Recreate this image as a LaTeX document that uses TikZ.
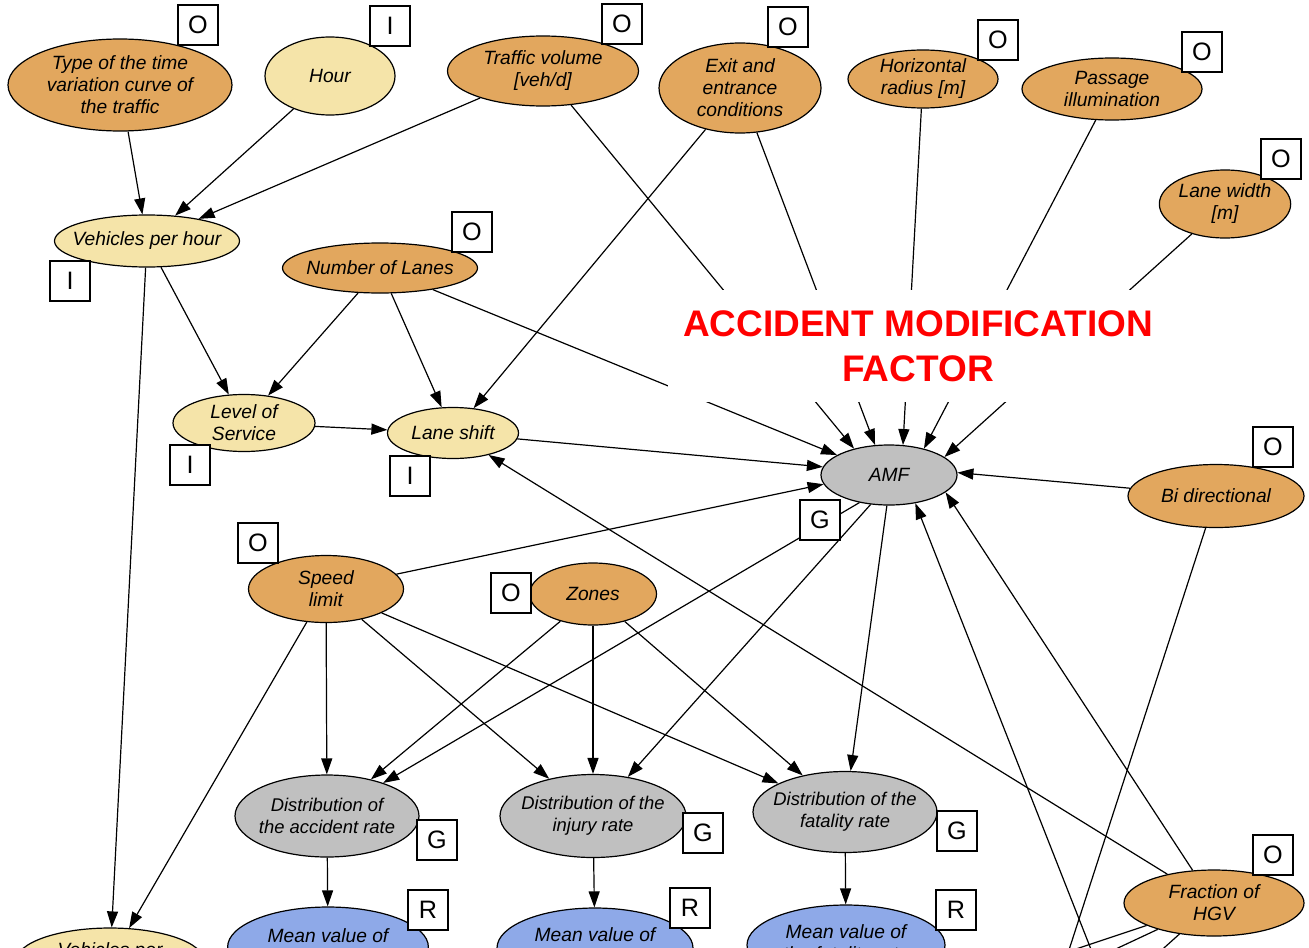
\documentclass[tikz,border=0pt]{standalone}
\usepackage{fontspec}
\setmainfont{Liberation Sans}
\usetikzlibrary{shapes.geometric,arrows.meta}
\definecolor{obsorange}{HTML}{E2A75E}
\definecolor{inpyellow}{HTML}{F5E4A9}
\definecolor{gengrey}{HTML}{C0C0C0}
\definecolor{resblue}{HTML}{8EA9E8}
\tikzset{
  var/.style={ellipse,draw,line width=0.6pt,inner sep=0pt,align=center,font=\fontsize{9.6}{11}\selectfont\itshape},
  obsvar/.style={var,fill=obsorange},
  inpvar/.style={var,fill=inpyellow},
  genvar/.style={var,fill=gengrey},
  resvar/.style={var,fill=resblue},
  tag/.style={draw,fill=white,line width=0.6pt,minimum size=20pt,inner sep=0pt,font=\fontsize{12.6}{14}\selectfont},
  dep/.style={line width=0.6pt,-{Triangle[length=8pt,width=5.5pt]}}
}
\begin{document}
\begin{tikzpicture}[x=0.5pt,y=-0.5pt]
    \useasboundingbox (0,0) rectangle (1309,947);
    \clip (0,0) rectangle (1309,947);

    % Variables
    \node (type) at (120,85) [obsvar,minimum width=112pt,minimum height=46pt] {Type of the time\\variation curve of\\the traffic};
    \node (hour) at (330,76) [inpvar,minimum width=65pt,minimum height=39pt] {Hour};
    \node (traffic) at (543,71) [obsvar,minimum width=95.5pt,minimum height=35pt] {Traffic volume\\{[veh/d]}};
    \node (exit) at (740,88) [obsvar,minimum width=81pt,minimum height=45pt] {Exit and\\entrance\\conditions};
    \node (radius) at (923,79) [obsvar,minimum width=75pt,minimum height=29pt] {Horizontal\\radius [m]};
    \node (illum) at (1112,89) [obsvar,minimum width=90pt,minimum height=31pt] {Passage\\illumination};
    \node (lanew) at (1225,204) [obsvar,minimum width=64.5pt,minimum height=34pt] {Lane width\\{[m]}};
    \node (vph) at (147,241) [inpvar,inner xsep=-5pt,minimum width=92.5pt,minimum height=26pt] {Vehicles per hour};
    \node (lanes) at (380,268) [obsvar,inner xsep=-2.5pt,minimum width=97.5pt,minimum height=25pt] {Number of Lanes};
    \node (los) at (244,423) [inpvar,minimum width=71pt,minimum height=28.5pt] {Level of\\Service};
    \node (shift) at (453,433) [inpvar,minimum width=65.5pt,minimum height=25.5pt] {Lane shift};
    \node (amf) at (889,475) [genvar,minimum width=68pt,minimum height=30pt] {AMF};
    \node (bidir) at (1216,496) [obsvar,minimum width=88pt,minimum height=31.5pt] {Bi directional};
    \node (speed) at (326,589) [obsvar,minimum width=77.5pt,minimum height=33.5pt] {Speed\\limit};
    \node (zones) at (593,594) [obsvar,minimum width=63.5pt,minimum height=31pt] {Zones};
    \node (distacc) at (327,816) [genvar,inner xsep=-4pt,minimum width=92pt,minimum height=41pt,font=\fontsize{9.2}{11}\selectfont\itshape] {Distribution of\\the accident rate};
    \node (distinj) at (593,816) [genvar,inner xsep=-4.5pt,minimum width=93pt,minimum height=41.5pt,font=\fontsize{9.2}{11}\selectfont\itshape] {Distribution of the\\injury rate};
    \node (distfat) at (845,812) [genvar,inner xsep=-4.5pt,minimum width=92pt,minimum height=40.5pt,font=\fontsize{9.2}{11}\selectfont\itshape] {Distribution of the\\fatality rate};
    \node (meanacc) at (328,947) [resvar,minimum width=99pt,minimum height=40pt] {Mean value of\\the accident rate};
    \node (meaninj) at (595,948) [resvar,minimum width=98pt,minimum height=40pt] {Mean value of\\the injury rate};
    \node (meanfat) at (846,945) [resvar,minimum width=99pt,minimum height=40pt] {Mean value of\\the fatality rate};
    \node (hgv) at (1214,903) [obsvar,minimum width=90pt,minimum height=33pt] {Fraction of\\HGV};
    \node (vehbot) at (110,961) [inpvar,minimum width=94pt,minimum height=33pt] {Vehicles per\\lane};

    % Free ends below the picture
    \coordinate (offamf) at (1107,990);
    \coordinate (offbidir) at (1056,990);
    \coordinate (offhgva) at (950,991);
    \coordinate (offhgvb) at (1026,991);
    \coordinate (offhgvc) at (1116,991);

    % Dependencies
    \draw[dep] (type) -- (vph);
    \draw[dep] (hour) -- (vph);
    \draw[dep] (traffic) -- (vph);
    \draw[dep] (traffic) -- (amf.143);
    \draw[dep] (exit) -- (shift);
    \draw[dep] (exit) -- (amf.115);
    \draw[dep] (radius) -- (amf.65);
    \draw[dep] (illum) -- (amf.37);
    \draw[dep] (lanew) -- (amf.18);
    \draw[dep] (vph) -- (los);
    \draw[dep] (vph) -- (vehbot);
    \draw[dep] (lanes) -- (los);
    \draw[dep] (lanes) -- (shift);
    \draw[dep] (lanes) -- (amf.159);
    \draw[dep] (los) -- (shift);
    \draw[dep] (shift) -- (amf.173);
    \draw[dep] (bidir) -- (amf.2);
    \draw[dep] (bidir) -- (offbidir);
    \draw[dep] (speed) -- (amf.188);
    \draw[dep] (speed) -- (vehbot);
    \draw[dep] (speed) -- (distacc);
    \draw[dep] (speed) -- (distinj);
    \draw[dep] (speed) -- (distfat);
    \draw[dep] (zones) -- (distacc);
    \draw[dep] (zones) -- (distinj);
    \draw[dep] (zones) -- (distfat);
    \draw[dep] (amf.223) -- (distacc);
    \draw[dep] (amf.238) -- (distinj);
    \draw[dep] (amf.266) -- (distfat);
    \draw[dep] (distacc) -- (meanacc);
    \draw[dep] (distinj) -- (meaninj);
    \draw[dep] (distfat) -- (meanfat);
    \draw[dep] (hgv) -- (shift);
    \draw[dep] (hgv) -- (amf.-17);
    \draw[dep] (offamf) -- (amf.-47);
    \draw[dep] (hgv) -- (offhgva);
    \draw[dep] (hgv) -- (offhgvb);
    \draw[dep] (hgv) -- (offhgvc);

    % Node types
    \node (tagtype) at (198,25) [tag] {O};
    \node (taghour) at (390,26) [tag] {I};
    \node (tagtraffic) at (622,24) [tag] {O};
    \node (tagexit) at (788,27) [tag] {O};
    \node (tagradius) at (998,40) [tag] {O};
    \node (tagillum) at (1202,52) [tag] {O};
    \node (taglanew) at (1281,159) [tag] {O};
    \node (tagvph) at (70,281) [tag] {I};
    \node (taglanes) at (472,232) [tag] {O};
    \node (taglos) at (190,465) [tag] {I};
    \node (tagshift) at (410,476) [tag] {I};
    \node (tagamf) at (820,520) [tag] {G};
    \node (tagbidir) at (1273,447) [tag] {O};
    \node (tagspeed) at (258,543) [tag] {O};
    \node (tagzones) at (511,593) [tag] {O};
    \node (tagdistacc) at (437,840) [tag] {G};
    \node (tagdistinj) at (703,833) [tag] {G};
    \node (tagdistfat) at (957,831) [tag] {G};
    \node (tagmeanacc) at (428,910) [tag] {R};
    \node (tagmeaninj) at (690,908) [tag] {R};
    \node (tagmeanfat) at (956,910) [tag] {R};
    \node (taghgv) at (1273,855) [tag] {O};

    % Title
    \node (title) at (918,346) [fill=white,minimum width=250pt,minimum height=56pt,align=center,text=red,font=\fontsize{18.5}{22.5}\selectfont\bfseries] {ACCIDENT MODIFICATION\\FACTOR};
\end{tikzpicture}
\end{document}
